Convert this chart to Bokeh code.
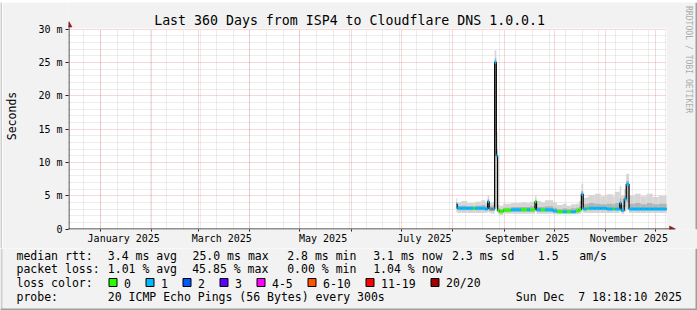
import math
import pandas as pd
from bokeh.plotting import figure
from bokeh.layouts import column, row
from bokeh.models import ColumnDataSource, Range1d, LinearAxis, FixedTicker, Grid
from bokeh.core.properties import value
from bokeh.embed import file_html
from bokeh.resources import INLINE

# ---------------- data ----------------
WINDOW_START = "2024-12-12 18:18:10"
WINDOW_END = "2025-12-07 18:18:10"
END_DAY = 360.0

# days since window start at which each consolidated segment begins
seg_day = [233.4, 234.0, 236.4, 240.0, 243.6, 244.8, 248.4, 250.8, 252.3, 253.2,
           254.4, 255.3, 256.5, 257.5, 258.3, 259.5, 261.6, 266.4, 272.4, 276.0,
           277.8, 280.8, 281.7, 284.4, 286.8, 291.6, 294.0, 297.6, 300.0, 302.4,
           305.4, 307.2, 308.7, 309.8, 312.0, 313.2, 316.8, 320.4, 324.0, 327.6,
           328.8, 331.8, 332.7, 334.5, 335.7, 337.4, 340.8, 344.4, 348.0, 351.6,
           355.2]
# median rtt (ms)
med_ms = [3.7, 3.1, 3.1, 3.1, 3.1, 3.1, 3.1, 3.0, 4.1, 3.0,
          3.0, 3.0, 25.0, 11.0, 2.8, 2.6, 2.8, 2.9, 2.9, 2.9,
          2.9, 4.1, 2.9, 2.9, 2.9, 2.7, 2.6, 2.6, 2.6, 2.6,
          2.7, 2.9, 5.2, 3.0, 3.1, 3.1, 3.1, 3.1, 3.0, 3.0,
          3.0, 3.9, 2.8, 4.5, 6.7, 3.0, 3.0, 3.0, 3.0, 3.0,
          3.0]
# lost pings out of 20
loss_pings = [1, 1, 1, 1, 0, 1, 1, 1, 1, 1,
              7, 1, 1, 1, 0, 0, 0, 1, 0, 1,
              0, 0, 1, 0, 1, 1, 0, 1, 0, 1,
              0, 0, 1, 1, 0, 1, 1, 1, 1, 0,
              1, 1, 1, 1, 1, 1, 1, 1, 1, 1,
              1]
# smoke (spread of the 20 pings, ms)
smoke_min = [2.5, 2.4, 2.4, 2.4, 2.4, 2.4, 2.4, 2.4, 2.6, 2.4,
             2.3, 2.3, 3.0, 2.6, 2.2, 2.1, 2.3, 2.3, 2.3, 2.3,
             2.3, 2.6, 2.3, 2.3, 2.3, 2.2, 2.2, 2.2, 2.2, 2.2,
             2.2, 2.3, 2.7, 2.4, 2.4, 2.4, 2.4, 2.4, 2.4, 2.4,
             2.4, 2.6, 2.3, 2.6, 2.8, 2.4, 2.4, 2.4, 2.4, 2.4,
             2.4]
smoke_q1 = [3.0, 2.8, 2.8, 2.8, 2.8, 2.8, 2.8, 2.8, 3.3, 2.8,
            2.7, 2.7, 14.0, 3.2, 2.5, 2.4, 2.6, 2.6, 2.6, 2.6,
            2.6, 3.2, 2.6, 2.6, 2.6, 2.5, 2.4, 2.4, 2.4, 2.4,
            2.5, 2.6, 3.6, 2.8, 2.8, 2.8, 2.8, 2.8, 2.8, 2.8,
            2.8, 3.1, 2.6, 3.3, 4.0, 2.8, 2.8, 2.8, 2.8, 2.8,
            2.8]
smoke_q3 = [4.0, 3.5, 3.5, 3.4, 3.4, 3.5, 3.6, 3.5, 4.5, 3.4,
            3.5, 3.6, 25.6, 12.0, 3.1, 3.0, 3.2, 3.3, 3.3, 3.3,
            3.4, 4.4, 3.3, 3.3, 3.4, 3.2, 3.0, 3.1, 3.0, 3.1,
            3.2, 3.4, 5.7, 3.7, 3.8, 3.9, 3.8, 3.7, 3.8, 3.7,
            3.9, 4.6, 3.6, 5.0, 7.2, 3.8, 3.9, 3.7, 3.9, 3.7,
            3.8]
smoke_max = [4.6, 4.0, 4.2, 3.9, 3.9, 4.1, 4.3, 4.0, 5.1, 3.9,
             4.0, 4.1, 26.8, 14.5, 3.6, 3.5, 3.8, 3.9, 4.0, 3.9,
             4.1, 4.9, 4.2, 4.0, 4.3, 4.0, 3.6, 3.8, 3.5, 3.7,
             3.8, 4.2, 6.8, 4.7, 4.8, 5.1, 5.3, 4.9, 5.2, 4.9,
             5.6, 6.4, 5.0, 6.0, 8.3, 5.0, 5.3, 4.9, 5.3, 4.8,
             5.0]

y_ticks = [0, 5, 10, 15, 20, 25, 30]
y_tick_labels = ["0", "5 m", "10 m", "15 m", "20 m", "25 m", "30 m"]
x_label_dates = ["2025-01-15", "2025-03-15", "2025-05-15", "2025-07-15", "2025-09-15", "2025-11-15"]
x_label_texts = ["January 2025", "March 2025", "May 2025", "July 2025", "September 2025", "November 2025"]

loss_names = ["0", "1", "2", "3", "4-5", "6-10", "11-19", "20/20"]
loss_upper = [0, 1, 2, 3, 5, 10, 19, 20]
loss_colors = ["#26ff00", "#00b8ff", "#0059ff", "#5e00ff", "#ff00ff", "#ff5500", "#ff0000", "#a10000"]

title_text = "Last 360 Days from ISP4 to Cloudflare DNS 1.0.0.1"
row_rtt = ["median rtt:", "3.4 ms avg", "25.0 ms max", "2.8 ms min", "3.1 ms now", "2.3 ms sd", "1.5   am/s"]
row_loss = ["packet loss:", "1.01 % avg", "45.85 % max", "0.00 % min", "1.04 % now"]
probe_text = "20 ICMP Echo Pings (56 Bytes) every 300s"
stamp_text = "Sun Dec  7 18:18:10 2025"

# ---------------- layout constants (page pixels) ----------------
FONT = "DejaVu Sans Mono"
W, H = 697, 310
SH = 2                 # shade width of the outer frame
TOP_H = 248            # page row where the legend figure starts
PLOT_L, PLOT_W, PLOT_H = 66, 600, 200
FRAME_B = 229          # frame bottom of the chart figure (page px)
ZERO_Y = 228.5         # page row of y = 0
SHADE_A, SHADE_B, BACK = "#cfcfcf", "#9e9e9e", "#f2f2f2"

DAY = 86400000


def ms(ts):
    return int(pd.Timestamp(ts).value // 10**6)


def nb(s):
    # keep runs of spaces visible in SVG text
    return s.replace(" ", "\u00a0")


t0 = ms(WINDOW_START)
t1 = ms(WINDOW_END)
K = (t1 - t0) / PLOT_W             # ms per pixel
YPP = 30.0 / PLOT_H                # value per pixel
starts = [t0 + d * DAY for d in seg_day]
ends = starts[1:] + [t0 + END_DAY * DAY]


def color_for(n):
    for up, c in zip(loss_upper, loss_colors):
        if n <= up:
            return c
    return loss_colors[-1]


src = ColumnDataSource(dict(
    left=starts, right=ends, med=med_ms, smin=smoke_min, smax=smoke_max,
    q1=smoke_q1, q3=smoke_q3, col=[color_for(n) for n in loss_pings]))


def strip(w, h, color):
    s = figure(width=w, height=h, x_range=Range1d(0, 1), y_range=Range1d(0, 1),
               x_axis_type=None, y_axis_type=None, toolbar_location=None, output_backend="svg",
               min_border=0, min_border_left=0, min_border_right=0, min_border_top=0,
               min_border_bottom=0, background_fill_color=color, border_fill_color=color,
               outline_line_color=None)
    return s


# ---------------- chart figure (placed at page x=SH, y=SH) ----------------
p = figure(width=W - SH, height=TOP_H - SH,
           x_range=Range1d(t0, t0 + (W - PLOT_L) * K),
           y_range=Range1d(-(FRAME_B - ZERO_Y) * YPP, (ZERO_Y - SH) * YPP),
           x_axis_type=None, y_axis_type=None, toolbar_location=None, output_backend="svg",
           min_border_left=PLOT_L - SH, min_border_right=0, min_border_top=0,
           min_border_bottom=TOP_H - FRAME_B,
           background_fill_color=BACK, border_fill_color=BACK, outline_line_color=None)
p.extra_x_ranges = {"px": Range1d(PLOT_L, W)}
p.extra_y_ranges = {"px": Range1d(FRAME_B, SH)}

# white canvas of the graph
canvas_r = p.quad(left=[t0], right=[t1], bottom=[-0.5 * YPP], top=[30 + 0.5 * YPP],
                  fill_color="#ffffff", line_color=None)
canvas_r.level = "image"

# grids
minor_x = []
d = pd.Timestamp("2024-12-22")
while d < pd.Timestamp(WINDOW_END):
    minor_x.append(ms(d))
    d += pd.Timedelta(days=10)
month_x = [ms(f"2025-{m:02d}-01") for m in range(1, 13)]
minor_y = [v for v in range(1, 30) if v % 5]

HAS_CB = "cross_bounds" in Grid.properties()


def add_grid(dim, ticks, color, alpha):
    if HAS_CB:
        g = Grid(dimension=dim, ticker=FixedTicker(ticks=ticks), grid_line_color=color,
                 grid_line_alpha=alpha, grid_line_dash="1 1",
                 cross_bounds=(0, 30) if dim == 0 else (t0, t1))
        p.add_layout(g)
    else:
        if dim == 0:
            r = p.segment(x0=ticks, y0=0, x1=ticks, y1=30, line_color=color, line_alpha=alpha,
                          line_dash="1 1")
        else:
            r = p.segment(x0=t0, y0=ticks, x1=t1, y1=ticks, line_color=color, line_alpha=alpha,
                          line_dash="1 1")
        r.level = "underlay"


add_grid(0, minor_x, "#8f8f8f", 0.32)
add_grid(1, minor_y, "#8f8f8f", 0.32)
add_grid(0, month_x, "#de5050", 0.45)
add_grid(1, y_ticks[1:], "#de5050", 0.45)

# smoke + median
p.quad(left="left", right="right", bottom="smin", top="smax", source=src,
       fill_color="#d6d6d6", line_color=None)
p.quad(left="left", right="right", bottom="q1", top="q3", source=src,
       fill_color="#b4b4b4", line_color=None)
p.step(x=starts + [ends[-1]], y=med_ms + [med_ms[-1]], mode="after",
       line_color="#000000", line_width=1.2)
p.segment(x0="left", y0="med", x1="right", y1="med", source=src,
          line_color="col", line_width=3, line_cap="butt")

# axes
label_ticks = [ms(s) for s in x_label_dates]
xaxis = LinearAxis(ticker=FixedTicker(ticks=label_ticks, minor_ticks=month_x),
                   major_label_overrides=dict(zip(label_ticks, x_label_texts)),
                   axis_line_color=None, major_tick_out=0, major_tick_in=0,
                   minor_tick_out=2, minor_tick_in=0, minor_tick_line_color="#1f1f1f",
                   major_label_standoff=1, major_label_text_font=FONT,
                   major_label_text_font_size="10px", major_label_text_color="#000000")
p.add_layout(xaxis, "below")
yaxis = LinearAxis(ticker=FixedTicker(ticks=y_ticks),
                   major_label_overrides=dict(zip(y_ticks, y_tick_labels)),
                   axis_line_color=None, major_tick_out=3, major_tick_in=0,
                   major_tick_line_color="#1f1f1f", minor_tick_out=0, minor_tick_in=0,
                   major_label_standoff=3, major_label_text_font=FONT,
                   major_label_text_font_size="10px", major_label_text_color="#000000",
                   axis_label="Seconds", axis_label_text_font=FONT,
                   axis_label_text_font_size="11.5px", axis_label_text_font_style="normal",
                   axis_label_text_color="#000000", axis_label_standoff=16)
p.add_layout(yaxis, "left")

# axis lines with arrow heads (page pixel space)
AX = "#1f1f1f"
ARROW_C = "#801f1f"
PX = dict(x_range_name="px", y_range_name="px")
p.segment(x0=[62, 66.5], y0=[ZERO_Y, 231], x1=[670, 66.5], y1=[ZERO_Y, 25],
          line_color=AX, line_width=1, **PX)
p.patches(xs=[[669, 675, 669], [63.5, 66.5, 69.5]],
          ys=[[ZERO_Y - 3, ZERO_Y, ZERO_Y + 3], [26.5, 21, 26.5]],
          fill_color=ARROW_C, line_color=ARROW_C, line_width=0.5, **PX)

# right shade of the outer frame
p.quad(left=[W - SH], right=[W], top=[SH], bottom=[FRAME_B],
       fill_color=SHADE_B, line_color=None, **PX)

# title and watermark
p.text(x=[348], y=[20.0], text=[title_text], text_font=value(FONT),
       text_font_size=value("13.25px"), text_align="center", text_baseline="alphabetic",
       text_color="#000000", **PX)
p.text(x=[688], y=[59], text=[nb("RRDTOOL / TOBI OETIKER")], angle=-math.pi / 2,
       text_font=value(FONT), text_font_size=value("8.1px"), text_align="center",
       text_baseline="alphabetic", text_color="#ababab", **PX)

# ---------------- legend figure (page pixel coordinates) ----------------
q = figure(width=W, height=H - TOP_H, x_range=Range1d(0, W), y_range=Range1d(H, TOP_H),
           x_axis_type=None, y_axis_type=None, toolbar_location=None, output_backend="svg",
           min_border=0, min_border_left=0, min_border_right=0, min_border_top=0,
           min_border_bottom=0, background_fill_color=BACK, border_fill_color=BACK,
           outline_line_color=None)

# shaded frame (left / right / bottom)
q.quad(left=[0, W - SH, 0], right=[SH, W, W], top=[TOP_H, TOP_H, H - SH], bottom=[H, H, H],
       fill_color=[SHADE_A, SHADE_B, SHADE_B], line_color=None)

ROW_Y = [255.2, 268.6, 282.8, 296.2]
rtt_x = [16, 107.3, 192, 286.7, 372.7, 451.5, 537.3]
loss_x = [16, 107.3, 191.7, 286.7, 372.7]
sw_left = [108.5, 145.5, 182.5, 219.5, 256.5, 307.5, 365.5, 430.5]

TXT = dict(text_font=value(FONT), text_font_size=value("11.5px"), text_baseline="alphabetic",
           text_color="#000000")
q.text(x=rtt_x, y=[ROW_Y[0]] * len(rtt_x), text=[nb(s) for s in row_rtt], text_align="left", **TXT)
q.text(x=loss_x, y=[ROW_Y[1]] * len(loss_x), text=[nb(s) for s in row_loss], text_align="left", **TXT)
q.text(x=[16] + [x + 15 for x in sw_left], y=[ROW_Y[2]] * (len(sw_left) + 1),
       text=[nb("loss color:")] + loss_names, text_align="left", **TXT)
q.quad(left=sw_left, right=[x + 8 for x in sw_left], top=[278.0] * len(sw_left),
       bottom=[286.0] * len(sw_left), fill_color=loss_colors, line_color="#000000", line_width=1)
q.text(x=[16, 107.3], y=[ROW_Y[3]] * 2, text=["probe:", nb(probe_text)], text_align="left", **TXT)
q.text(x=[681.5], y=[ROW_Y[3]], text=[nb(stamp_text)], text_align="right", **TXT)

# outer shade strips
top_strip = strip(W, SH, SHADE_A)
left_strip = strip(SH, TOP_H - SH, SHADE_A)

for fig in (p, q, top_strip, left_strip):
    if "frame_align" in fig.properties():
        fig.frame_align = False

layout = column(top_strip, row(left_strip, p, spacing=0), q, spacing=0)
open("out.html", "w").write(file_html(layout, INLINE))
